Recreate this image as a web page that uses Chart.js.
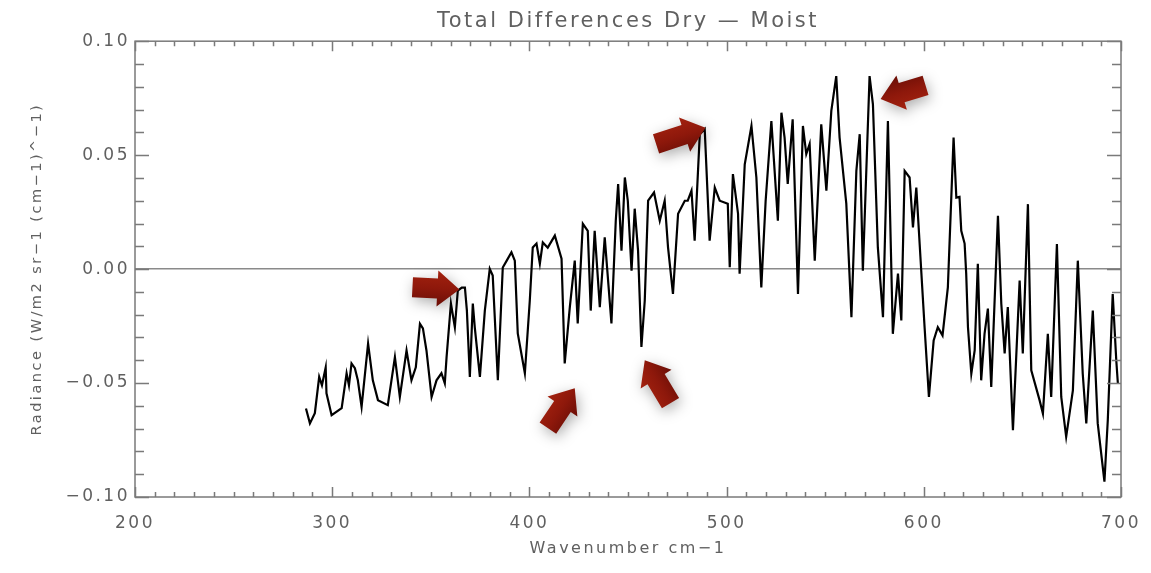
<!DOCTYPE html>
<html>
<head>
<meta charset="utf-8">
<title>Total Differences Dry - Moist</title>
<script src="https://cdn.jsdelivr.net/npm/chart.js@4.4.1/dist/chart.umd.min.js"></script>
<style>
  html, body { margin: 0; padding: 0; background: #fff; }
  #wrap { width: 1151px; height: 573px; }
</style>
</head>
<body>
<div id="wrap"><canvas id="spectrum" width="1151" height="573"></canvas></div>
<script>
// ===== Data =====
const wavenumbers = [
  286.7, 288.7, 291.2, 293.4, 294.8, 296.7, 297.1, 299.7, 304.8, 307.3,
  308.5, 309.8, 311.5, 313.0, 314.9, 318.2, 320.6, 323.2, 328.2, 331.8,
  334.3, 337.7, 340.2, 342.4, 344.5, 346.0, 347.8, 350.4, 352.9, 355.4,
  357.1, 358.0, 360.2, 362.2, 363.7, 365.7, 367.3, 368.3, 369.8, 371.3,
  372.3, 374.9, 377.4, 379.9, 381.4, 384.0, 386.5, 388.5, 390.9, 392.6,
  394.1, 397.7, 400.2, 401.7, 403.6, 405.3, 406.8, 409.3, 412.9, 416.3,
  417.9, 420.5, 423.0, 424.5, 427.1, 429.6, 431.1, 433.1, 435.7, 438.2,
  441.6, 443.8, 445.0, 446.7, 448.4, 449.9, 451.8, 453.4, 455.1, 456.8,
  458.5, 460.2, 463.2, 466.1, 468.6, 470.3, 472.8, 475.4, 478.8, 480.3,
  482.2, 483.8, 486.4, 488.9, 491.4, 494.0, 496.5, 500.6, 501.6, 503.2,
  505.8, 506.6, 509.2, 512.6, 515.1, 517.6, 519.8, 522.7, 526.0, 527.8,
  529.4, 531.0, 533.5, 536.2, 538.7, 540.4, 542.1, 544.7, 548.0, 550.6,
  553.1, 555.6, 557.3, 560.7, 563.3, 565.8, 567.5, 569.1, 572.5, 574.2,
  576.7, 579.3, 581.8, 584.3, 586.9, 588.6, 590.3, 592.8, 594.5, 596.2,
  600.4, 602.6, 605.0, 607.1, 609.5, 612.2, 615.1, 616.5, 618.1, 619.0,
  620.7, 621.5, 622.4, 624.1, 625.8, 627.4, 629.1, 630.8, 632.5, 634.2,
  637.6, 639.3, 641.0, 642.6, 645.2, 648.6, 650.2, 652.8, 654.5, 658.7,
  660.4, 662.9, 664.6, 667.5, 669.7, 672.2, 675.6, 678.1, 680.6, 682.4,
  685.7, 688.2, 691.6, 693.3, 695.8, 697.6, 698.4
];
const radiance = [
  -0.0612, -0.0677, -0.0632, -0.0473, -0.0510, -0.0432, -0.0545, -0.0641, -0.0610, -0.0457,
  -0.0510, -0.0414, -0.0435, -0.0488, -0.0605, -0.0327, -0.0488, -0.0575, -0.0597, -0.0386,
  -0.0561, -0.0357, -0.0488, -0.0431, -0.0240, -0.0260, -0.0357, -0.0561, -0.0488, -0.0457,
  -0.0501, -0.0386, -0.0151, -0.0255, -0.0094, -0.0081, -0.0081, -0.0182, -0.0473, -0.0151,
  -0.0256, -0.0473, -0.0182, 0.0001, -0.0028, -0.0488, 0.0007, 0.0037, 0.0074, 0.0037,
  -0.0282, -0.0457, -0.0138, 0.0095, 0.0112, 0.0024, 0.0117, 0.0094, 0.0147, 0.0046,
  -0.0414, -0.0167, 0.0037, -0.0238, 0.0199, 0.0168, -0.0182, 0.0168, -0.0167, 0.0139,
  -0.0238, 0.0212, 0.0373, 0.0081, 0.0402, 0.0300, -0.0007, 0.0265, 0.0081, -0.0342,
  -0.0138, 0.0300, 0.0336, 0.0212, 0.0300, 0.0095, -0.0109, 0.0243, 0.0300, 0.0300,
  0.0344, 0.0125, 0.0592, 0.0614, 0.0125, 0.0358, 0.0300, 0.0287, 0.0008, 0.0417,
  0.0243, -0.0020, 0.0460, 0.0628, 0.0402, -0.0080, 0.0300, 0.0650, 0.0212, 0.0686,
  0.0577, 0.0374, 0.0657, -0.0109, 0.0628, 0.0505, 0.0549, 0.0037, 0.0635, 0.0344,
  0.0694, 0.0847, 0.0577, 0.0287, -0.0211, 0.0431, 0.0592, -0.0007, 0.0847, 0.0723,
  0.0095, -0.0211, 0.0650, -0.0284, -0.0020, -0.0225, 0.0431, 0.0402, 0.0183, 0.0358,
  -0.0255, -0.0561, -0.0313, -0.0255, -0.0291, -0.0080, 0.0577, 0.0314, 0.0317, 0.0168,
  0.0112, -0.0020, -0.0255, -0.0459, -0.0357, 0.0023, -0.0488, -0.0284, -0.0173, -0.0517,
  0.0234, -0.0152, -0.0370, -0.0167, -0.0707, -0.0050, -0.0370, 0.0285, -0.0444, -0.0575,
  -0.0634, -0.0284, -0.0561, 0.0110, -0.0561, -0.0736, -0.0532, 0.0037, -0.0459, -0.0677,
  -0.0182, -0.0677, -0.0933, -0.0663, -0.0109, -0.0400, -0.0501
];
const xTickValues = [200, 300, 400, 500, 600, 700];
const yTickValues = [-0.10, -0.05, 0.00, 0.05, 0.10];

// arrows: tip in data units, angle of travel (deg, screen), length px
const arrows = [
  { x: 364.5, y: -0.0090, angle: 3, len: 47 },
  { x: 423.0, y: -0.0523, angle: -56, len: 48 },
  { x: 458.5, y: -0.0400, angle: -121, len: 50 },
  { x: 489.3, y: 0.0620, angle: -18, len: 52 },
  { x: 578.1, y: 0.0746, angle: 163, len: 47 }
];

const points = wavenumbers.map((w, i) => ({ x: w, y: radiance[i] }));

// ===== Styling =====
const FONT = "DejaVu Sans";
const TEXT = "#606060";
const AXIS = "#7a7a7a";

const fmtY = v => v.toFixed(2).replace("-", "\u2212");

// ===== Plugin: IDL style box, inward ticks, red arrows =====
const idlFrame = {
  id: "idlFrame",
  beforeDraw(chart) {
    chart.ctx.letterSpacing = "2.5px";
  },
  afterDatasetsDraw(chart) {
    const { ctx, chartArea: a, scales: { x, y } } = chart;
    ctx.save();
    ctx.letterSpacing = "0px";
    ctx.strokeStyle = AXIS;
    ctx.lineWidth = 1.5;
    ctx.strokeRect(a.left, a.top, a.right - a.left, a.bottom - a.top);

    ctx.beginPath();
    for (let w = 200; w <= 700; w += 10) {
      const px = Math.round(x.getPixelForValue(w)) + 0.5;
      const len = w % 100 === 0 ? 10 : 5;
      ctx.moveTo(px, a.bottom); ctx.lineTo(px, a.bottom - len);
      ctx.moveTo(px, a.top); ctx.lineTo(px, a.top + len);
    }
    for (let k = -10; k <= 10; k++) {
      const py = Math.round(y.getPixelForValue(k / 100)) + 0.5;
      const len = k % 5 === 0 ? 14 : 9;
      ctx.moveTo(a.left, py); ctx.lineTo(a.left + len, py);
      ctx.moveTo(a.right, py); ctx.lineTo(a.right - len, py);
    }
    ctx.stroke();

    // arrows
    arrows.forEach(ar => {
      const tx = x.getPixelForValue(ar.x);
      const ty = y.getPixelForValue(ar.y);
      ctx.save();
      ctx.translate(tx, ty);
      ctx.rotate(ar.angle * Math.PI / 180);
      const L = ar.len, hl = 22, hw = 18, sw = 10;
      ctx.beginPath();
      ctx.moveTo(0, 0);
      ctx.lineTo(-hl, -hw);
      ctx.lineTo(-hl, -sw);
      ctx.lineTo(-L, -sw);
      ctx.lineTo(-L, sw);
      ctx.lineTo(-hl, sw);
      ctx.lineTo(-hl, hw);
      ctx.closePath();
      ctx.shadowColor = "rgba(0,0,0,0.32)";
      ctx.shadowBlur = 14;
      ctx.shadowOffsetX = 2;
      ctx.shadowOffsetY = 4;
      const g = ctx.createLinearGradient(0, -hw, 0, hw);
      g.addColorStop(0, "#a3220f");
      g.addColorStop(0.5, "#8e180b");
      g.addColorStop(1, "#6a0e06");
      ctx.fillStyle = g;
      ctx.fill();
      ctx.restore();
    });
    ctx.restore();
  }
};

// ===== Chart =====
const ctx = document.getElementById("spectrum").getContext("2d");
new Chart(ctx, {
  type: "line",
  data: {
    datasets: [{
      data: points,
      borderColor: "#000",
      borderWidth: 2.2,
      pointRadius: 0,
      tension: 0,
      fill: false
    }]
  },
  options: {
    responsive: false,
    animation: false,
    layout: { padding: { left: 0, right: 30, top: 0, bottom: 0 } },
    plugins: {
      legend: { display: false },
      tooltip: { enabled: false },
      title: {
        display: true,
        fullSize: false,
        text: "Total Differences Dry \u2014 Moist",
        color: TEXT,
        font: { family: FONT, size: 21, weight: "normal" },
        padding: { top: 9, bottom: 7 }
      }
    },
    scales: {
      x: {
        type: "linear",
        min: 200,
        max: 700,
        afterFit: s => { s.height = 76; },
        afterBuildTicks: s => { s.ticks = xTickValues.map(v => ({ value: v })); },
        ticks: {
          color: TEXT,
          font: { family: FONT, size: 17 },
          padding: 8,
          maxRotation: 0,
          callback: v => String(v)
        },
        grid: { display: false },
        border: { display: false },
        title: {
          display: true,
          text: "Wavenumber cm\u22121",
          color: TEXT,
          font: { family: FONT, size: 16 },
          padding: { top: 0, bottom: 15 }
        }
      },
      y: {
        type: "linear",
        min: -0.10,
        max: 0.10,
        afterFit: s => { s.width = 135; },
        afterBuildTicks: s => { s.ticks = yTickValues.map(v => ({ value: v })); },
        ticks: {
          color: TEXT,
          font: { family: FONT, size: 17 },
          padding: 5,
          callback: v => fmtY(v)
        },
        grid: {
          drawTicks: false,
          color: c => (c.tick && c.tick.value === 0 ? "#8a8a8a" : "rgba(0,0,0,0)"),
          lineWidth: 1.5
        },
        border: { display: false },
        title: {
          display: true,
          text: "Radiance (W/m2 sr\u22121 (cm\u22121)^\u22121)",
          color: TEXT,
          font: { family: FONT, size: 14.5 },
          padding: { top: 29, bottom: 0 }
        }
      }
    }
  },
  plugins: [idlFrame]
});
</script>
</body>
</html>
